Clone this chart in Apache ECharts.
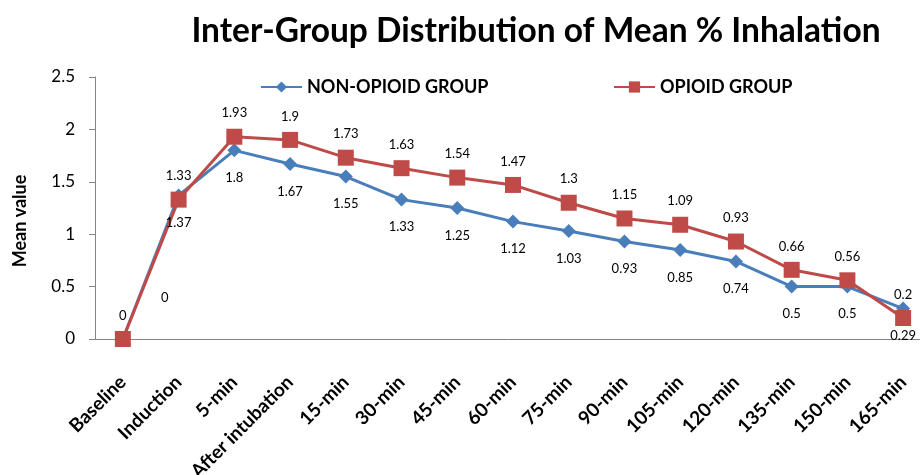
<!DOCTYPE html>
<html>
<head>
<meta charset="utf-8">
<script src="https://cdn.jsdelivr.net/npm/echarts@6/dist/echarts.min.js"></script>
<style>
	html,body{margin:0;padding:0;background:#fff;}
	#main{width:920px;height:475px;}
</style>
</head>
<body>
<div id="main"></div>
<script>
	var categories = ["Baseline","Induction","5-min","After intubation","15-min","30-min","45-min","60-min","75-min","90-min","105-min","120-min","135-min","150-min","165-min"];
	var nonOpioid = [0,1.37,1.8,1.67,1.55,1.33,1.25,1.12,1.03,0.93,0.85,0.74,0.5,0.5,0.29];
	var opioid = [0,1.33,1.93,1.9,1.73,1.63,1.54,1.47,1.3,1.15,1.09,0.93,0.66,0.56,0.2];

	var font = "Lato";
	var blue = "#4a7ebb", red = "#be4b48";

	//基线那一点的标签在原图里被挪到了右上方
	var blueData = nonOpioid.map(function(v,i){
		if(i===0) return {value:v, label:{offset:[42,-69]}};
		return v;
	});

	var legendText = {fontFamily:font, fontWeight:"bold", fontSize:18, color:"#000"};

	var myChart = echarts.init(document.getElementById('main'));
	myChart.setOption({
		animation:false,
		title:{
			text:"Inter-Group Distribution of Mean % Inhalation",
			left:531, top:9, textAlign:"center",
			textStyle:{fontFamily:font, fontWeight:"bold", fontSize:33.5, color:"#000"}
		},
		legend:[
			{data:["NON-OPIOID GROUP"], left:255, top:73, itemWidth:41, itemHeight:14, textStyle:legendText},
			{data:["OPIOID GROUP"], left:608, top:73, itemWidth:41, itemHeight:14, textStyle:legendText}
		],
		grid:{left:95, top:77, width:836, height:262, outerBoundsMode:"none"},
		xAxis:{
			type:"category",
			data:categories,
			axisLine:{lineStyle:{color:"#868686"}},
			axisTick:{length:6, lineStyle:{color:"#868686"}},
			axisLabel:{rotate:45, interval:0, margin:40, fontFamily:font, fontWeight:"bold", fontSize:19, color:"#000"}
		},
		yAxis:{
			type:"value",
			min:0, max:2.5, interval:0.5,
			name:"Mean value", nameLocation:"middle", nameRotate:90, nameGap:66,
			nameTextStyle:{fontFamily:font, fontWeight:"bold", fontSize:18, color:"#000", padding:[0,26,0,0]},
			axisLine:{show:true, lineStyle:{color:"#868686"}},
			axisTick:{show:true, length:6, lineStyle:{color:"#868686"}},
			splitLine:{show:false},
			axisLabel:{margin:20, fontFamily:font, fontSize:17, color:"#000"}
		},
		series:[
			{
				name:"NON-OPIOID GROUP", type:"line", data:blueData,
				symbol:"diamond", symbolSize:14,
				lineStyle:{width:3, color:blue}, itemStyle:{color:blue},
				label:{show:true, position:"bottom", distance:14, fontFamily:font, fontSize:13, color:"#000"}
			},
			{
				name:"OPIOID GROUP", type:"line", data:opioid,
				symbol:"rect", symbolSize:16,
				lineStyle:{width:3, color:red}, itemStyle:{color:red},
				label:{show:true, position:"top", distance:9, fontFamily:font, fontSize:13, color:"#000"}
			}
		]
	});
</script>
</body>
</html>
